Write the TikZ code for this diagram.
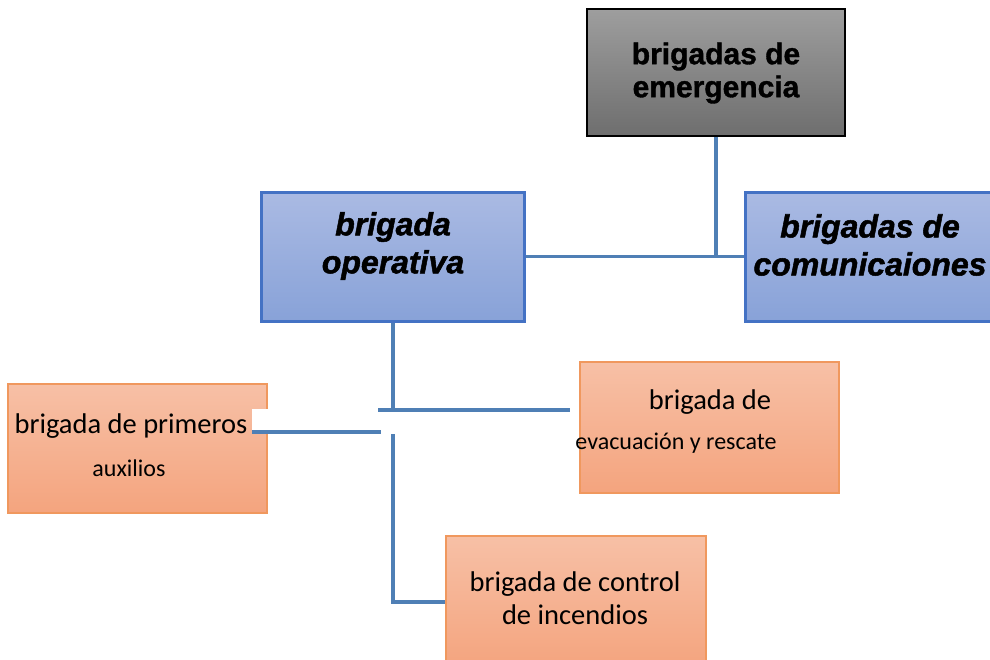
\documentclass[tikz,border=0pt]{standalone}
\usepackage{fontspec}
\setmainfont{Carlito}
\newfontfamily\arialf{Liberation Sans}[BoldFeatures={FakeBold=1.2},BoldItalicFeatures={FakeBold=1.6}]
\definecolor{conn}{HTML}{4F7FB5}
\definecolor{bluebd}{HTML}{4472C4}
\definecolor{bluetop}{HTML}{AABAE3}
\definecolor{bluebot}{HTML}{88A2D8}
\definecolor{graytop}{HTML}{9E9E9E}
\definecolor{graybot}{HTML}{6E6E6E}
\definecolor{ortop}{HTML}{F7C0A6}
\definecolor{orbot}{HTML}{F4A47E}
\definecolor{orbd}{HTML}{F0985E}
\tikzset{
  graybox/.style={draw=black, line width=2pt, top color=graytop, bottom color=graybot, inner sep=0pt},
  bluebox/.style={draw=bluebd, line width=3pt, top color=bluetop, bottom color=bluebot, inner sep=0pt},
  orbox/.style={draw=orbd, line width=1.5pt, top color=ortop, bottom color=orbot, inner sep=0pt},
  conline/.style={draw=conn, line width=3.2pt},
  headtxt/.style={font=\arialf\bfseries\fontsize{30}{33}\selectfont, align=center, inner sep=0pt},
  bluetxt/.style={font=\arialf\bfseries\itshape\fontsize{32}{38}\selectfont, align=center, inner sep=0pt},
  bigtxt/.style={font=\fontsize{28.5}{33}\selectfont, align=center, inner sep=0pt},
  smalltxt/.style={font=\fontsize{24}{28}\selectfont, inner sep=0pt},
}
\begin{document}
\begin{tikzpicture}[x=1pt,y=-1pt]
\useasboundingbox (0,0) rectangle (990,659);
\clip (0,0) rectangle (990,659);
% boxes
\node[graybox, minimum width=258pt, minimum height=127pt] (top) at (716,72.5) {};
\node[bluebox, minimum width=263pt, minimum height=129pt] (op) at (393,256.5) {};
\node[bluebox, minimum width=250pt, minimum height=129pt] (com) at (870,256.5) {};
\node[orbox, minimum width=259pt, minimum height=131pt] (evac) at (709.5,427.5) {};
\node[orbox, minimum width=260pt, minimum height=132pt] (ctrl) at (576,602) {};
\node[orbox, minimum width=259pt, minimum height=129pt] (aux) at (137.5,448.5) {};
% white patch
\fill[white] (252,409) rectangle (380,432);
% texts
\node[headtxt] (topt) at (716,73) {brigadas de\\emergencia};
\node[bluetxt] (opt) at (393,246) {brigada\\operativa};
\node[bluetxt] (comt) at (870,245) {brigadas de\\comunicaiones};
\node[bigtxt] (evt1) at (710,402) {brigada de};
\node[smalltxt] (evt2) at (676,443) {evacuación y rescate};
\node[bigtxt] (ctt) at (575,598) {brigada de control\\de incendios};
\node[bigtxt] (auxt1) at (131,426) {brigada de primeros};
\node[smalltxt] (auxt2) at (129,468) {auxilios};
% connector points
\coordinate (j1) at (top.south |- 0,256.5);
\coordinate (j2) at (op.south |- 0,410);
\coordinate (h1a) at (378,410);
\coordinate (h1b) at (570,410);
\coordinate (h2a) at (252,432);
\coordinate (h2b) at (381,432);
\coordinate (v2a) at (op.south |- 0,434);
% connectors
\draw[conline] (top.south) -- (j1);
\draw[conline] (op.east) -- (com.west);
\draw[conline] (op.south) -- (j2);
\draw[conline] (h1a) -- (h1b);
\draw[conline] (h2a) -- (h2b);
\draw[conline] (v2a) |- (ctrl.west);
\end{tikzpicture}
\end{document}
